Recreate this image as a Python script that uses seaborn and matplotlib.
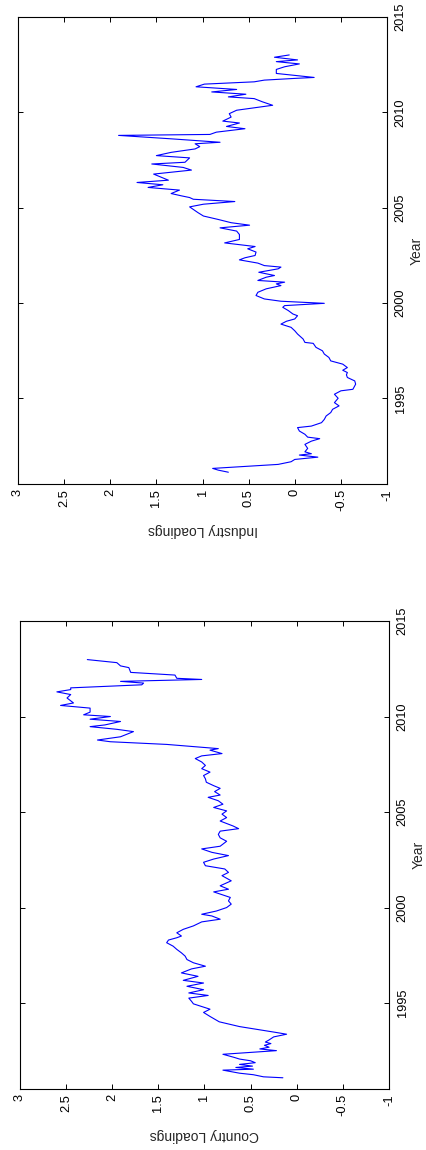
import numpy as np
import pandas as pd
import matplotlib
matplotlib.use("Agg")
import matplotlib.pyplot as plt
import seaborn as sns

# country loadings (year, loading)
country_year = [
    1991.09, 1991.14, 1991.25, 1991.33, 1991.49, 1991.54, 1991.63, 1991.70,
    1991.79, 1991.88, 1991.98, 1992.07, 1992.16, 1992.32, 1992.51, 1992.60,
    1992.69, 1992.79, 1992.88, 1992.96, 1993.07, 1993.23, 1993.37, 1993.46,
    1993.60, 1993.77, 1994.02, 1994.30, 1994.51, 1994.68, 1994.82, 1994.96,
    1995.09, 1995.26, 1995.40, 1995.53, 1995.70, 1995.88, 1996.05, 1996.19,
    1996.40, 1996.58, 1996.79, 1996.93, 1997.11, 1997.28, 1997.46, 1997.63,
    1997.81, 1997.98, 1998.16, 1998.30, 1998.42, 1998.51, 1998.68, 1998.86,
    1999.04, 1999.25, 1999.39, 1999.56, 1999.65, 1999.82, 2000.00, 2000.18,
    2000.35, 2000.53, 2000.82, 2000.96, 2001.14, 2001.40, 2001.67, 2001.84,
    2002.02, 2002.19, 2002.37, 2002.54, 2002.72, 2002.89, 2003.07, 2003.21,
    2003.47, 2003.65, 2003.83, 2004.00, 2004.13, 2004.27, 2004.53, 2004.71,
    2004.89, 2005.06, 2005.24, 2005.41, 2005.59, 2005.77, 2005.89, 2006.07,
    2006.24, 2006.38, 2006.56, 2006.74, 2006.91, 2007.09, 2007.27, 2007.44,
    2007.62, 2007.80, 2007.94, 2008.06, 2008.24, 2008.32, 2008.41, 2008.54,
    2008.68, 2008.77, 2008.94, 2009.21, 2009.33, 2009.47, 2009.56, 2009.74,
    2009.86, 2010.00, 2010.09, 2010.23, 2010.44, 2010.58, 2010.71, 2010.97,
    2011.15, 2011.29, 2011.41, 2011.50, 2011.66, 2011.75, 2011.84, 2011.94,
    2012.00, 2012.17, 2012.31, 2012.56, 2012.65, 2012.82, 2012.98,
]
country_load = [
    0.15, 0.36, 0.47, 0.62, 0.80, 0.47, 0.66, 0.48,
    0.62, 0.45, 0.50, 0.62, 0.68, 0.80, 0.22, 0.40,
    0.30, 0.35, 0.28, 0.34, 0.30, 0.25, 0.11, 0.22,
    0.40, 0.62, 0.84, 0.94, 1.01, 0.94, 1.03, 1.12,
    1.14, 1.17, 0.96, 1.17, 1.01, 1.19, 1.01, 1.23,
    1.07, 1.25, 1.14, 0.99, 1.12, 1.19, 1.21, 1.25,
    1.30, 1.34, 1.41, 1.39, 1.30, 1.25, 1.30, 1.23,
    1.12, 1.03, 0.83, 0.92, 1.03, 0.87, 0.76, 0.71,
    0.74, 0.72, 0.90, 0.74, 0.83, 0.71, 0.81, 0.74,
    0.78, 0.99, 1.01, 0.90, 0.74, 0.92, 1.03, 0.83,
    0.76, 0.83, 0.85, 0.83, 0.63, 0.69, 0.83, 0.76,
    0.81, 0.76, 0.90, 0.80, 0.85, 0.96, 0.83, 0.89,
    0.83, 0.90, 0.98, 0.99, 1.01, 0.94, 1.03, 0.99,
    1.03, 1.10, 1.03, 0.81, 0.94, 0.85, 1.08, 1.41,
    2.02, 2.16, 1.91, 1.77, 1.95, 2.24, 2.08, 1.91,
    2.24, 2.02, 2.31, 2.24, 2.24, 2.56, 2.42, 2.49,
    2.45, 2.60, 2.45, 2.45, 1.68, 1.66, 1.91, 1.03,
    1.30, 1.32, 1.80, 1.82, 1.91, 1.95, 2.27,
]

# industry loadings (year, loading)
industry_year = [
    1991.12, 1991.23, 1991.32, 1991.53, 1991.67, 1991.79, 1991.91, 1992.02,
    1992.09, 1992.19, 1992.37, 1992.58, 1992.75, 1992.88, 1992.96, 1993.11,
    1993.28, 1993.46, 1993.54, 1993.72, 1993.89, 1994.07, 1994.25, 1994.42,
    1994.60, 1994.77, 1995.00, 1995.21, 1995.39, 1995.47, 1995.74, 1995.91,
    1996.09, 1996.23, 1996.35, 1996.47, 1996.61, 1996.79, 1996.96, 1997.14,
    1997.32, 1997.49, 1997.67, 1997.88, 1997.93, 1998.11, 1998.37, 1998.54,
    1998.72, 1998.89, 1999.04, 1999.16, 1999.33, 1999.42, 1999.60, 1999.77,
    1999.86, 1999.98, 2000.09, 2000.21, 2000.39, 2000.56, 2000.74, 2000.91,
    2001.00, 2001.09, 2001.18, 2001.35, 2001.44, 2001.61, 2001.79, 2001.88,
    2001.96, 2002.09, 2002.26, 2002.37, 2002.49, 2002.67, 2002.84, 2002.96,
    2003.15, 2003.33, 2003.59, 2003.77, 2003.94, 2004.08, 2004.21, 2004.38,
    2004.56, 2004.74, 2004.91, 2005.04, 2005.18, 2005.32, 2005.44, 2005.53,
    2005.62, 2005.74, 2005.92, 2006.06, 2006.20, 2006.32, 2006.44, 2006.58,
    2006.76, 2006.97, 2007.11, 2007.29, 2007.38, 2007.61, 2007.73, 2007.90,
    2008.08, 2008.20, 2008.35, 2008.43, 2008.61, 2008.79, 2008.84, 2008.96,
    2009.14, 2009.26, 2009.44, 2009.54, 2009.75, 2009.93, 2010.11, 2010.19,
    2010.37, 2010.55, 2010.72, 2010.81, 2010.95, 2011.07, 2011.20, 2011.34,
    2011.48, 2011.60, 2011.69, 2011.78, 2011.83, 2011.95, 2012.04, 2012.25,
    2012.39, 2012.54, 2012.66, 2012.75, 2012.89, 2013.01,
]
industry_load = [
    0.72, 0.83, 0.89, 0.18, 0.04, 0.00, -0.25, -0.05,
    -0.18, -0.11, -0.14, -0.11, -0.18, -0.27, -0.14, -0.11,
    -0.05, -0.03, -0.18, -0.29, -0.32, -0.34, -0.39, -0.41,
    -0.48, -0.43, -0.47, -0.43, -0.50, -0.63, -0.66, -0.65,
    -0.57, -0.56, -0.57, -0.52, -0.57, -0.52, -0.39, -0.37,
    -0.32, -0.30, -0.23, -0.20, -0.11, -0.09, -0.03, 0.00,
    0.04, 0.15, 0.09, 0.00, -0.03, 0.02, 0.07, 0.13,
    0.11, -0.32, 0.15, 0.33, 0.42, 0.40, 0.31, 0.15,
    0.20, 0.11, 0.40, 0.31, 0.22, 0.39, 0.18, 0.15,
    0.33, 0.40, 0.60, 0.54, 0.43, 0.42, 0.51, 0.43,
    0.76, 0.60, 0.60, 0.63, 0.81, 0.49, 0.69, 0.83,
    0.99, 1.05, 1.10, 1.14, 0.99, 0.65, 1.10, 1.14,
    1.23, 1.34, 1.25, 1.59, 1.43, 1.71, 1.37, 1.44,
    1.53, 1.12, 1.21, 1.55, 1.19, 1.14, 1.50, 1.34,
    1.08, 1.03, 1.08, 0.81, 1.34, 1.91, 0.92, 0.85,
    0.54, 0.74, 0.60, 0.78, 0.69, 0.71, 0.63, 0.51,
    0.24, 0.35, 0.44, 0.72, 0.53, 0.90, 0.63, 1.07,
    0.98, 0.44, 0.33, 0.00, -0.21, 0.02, 0.20, 0.20,
    0.11, -0.05, 0.20, -0.03, 0.22, 0.06,
]

load_ticks = [-1, -0.5, 0, 0.5, 1, 1.5, 2, 2.5, 3]
load_labels = ["-1", "-0.5", "0", "0.5", "1", "1.5", "2", "2.5", "3"]
year_ticks = [1995, 2000, 2005, 2010, 2015]

sns.set_style("white")
plt.rcParams["font.family"] = ["Liberation Sans", "DejaVu Sans"]
plt.rcParams["axes.unicode_minus"] = False

fig = plt.figure(figsize=(4.26, 11.5), dpi=100)
ax_ind = fig.add_axes([0.0423, 0.5791, 0.8662, 0.4061])
ax_cty = fig.add_axes([0.0469, 0.0530, 0.8662, 0.4070])

panels = [
    (ax_ind, industry_year, industry_load, "Industry Loadings"),
    (ax_cty, country_year, country_load, "Country Loadings"),
]

for ax, yrs, vals, name in panels:
    df = pd.DataFrame({"Year": yrs, "Loading": vals})
    sns.lineplot(data=df, x="Loading", y="Year", orient="y", estimator=None,
                 color="#0000ff", linewidth=0.8, ax=ax)
    ax.set_xlim(3, -1)
    ax.set_ylim(1990.5, 2015)
    ax.set_xticks(load_ticks)
    ax.set_xticklabels(load_labels, rotation=90, fontsize=9.3)
    ax.set_yticks(year_ticks)
    ax.set_yticklabels([str(y) for y in year_ticks], rotation=90,
                       fontsize=9.2, va="center")
    ax.yaxis.tick_right()
    ax.yaxis.set_label_position("right")
    ax.tick_params(direction="in", length=3.6, width=0.7, colors="black",
                   top=True, bottom=True, left=True, right=True)
    ax.tick_params(axis="x", pad=3.5)
    ax.tick_params(axis="y", pad=5.5, labelright=True, labelleft=False)
    ax.set_xlabel(name, rotation=180, fontsize=10, labelpad=8.5)
    ax.set_ylabel("Year", rotation=90, fontsize=10, labelpad=2)
    for sp in ax.spines.values():
        sp.set_color("black")
        sp.set_linewidth(0.8)
        sp.set_visible(True)

fig.savefig("out.png", dpi=100, facecolor="white")
